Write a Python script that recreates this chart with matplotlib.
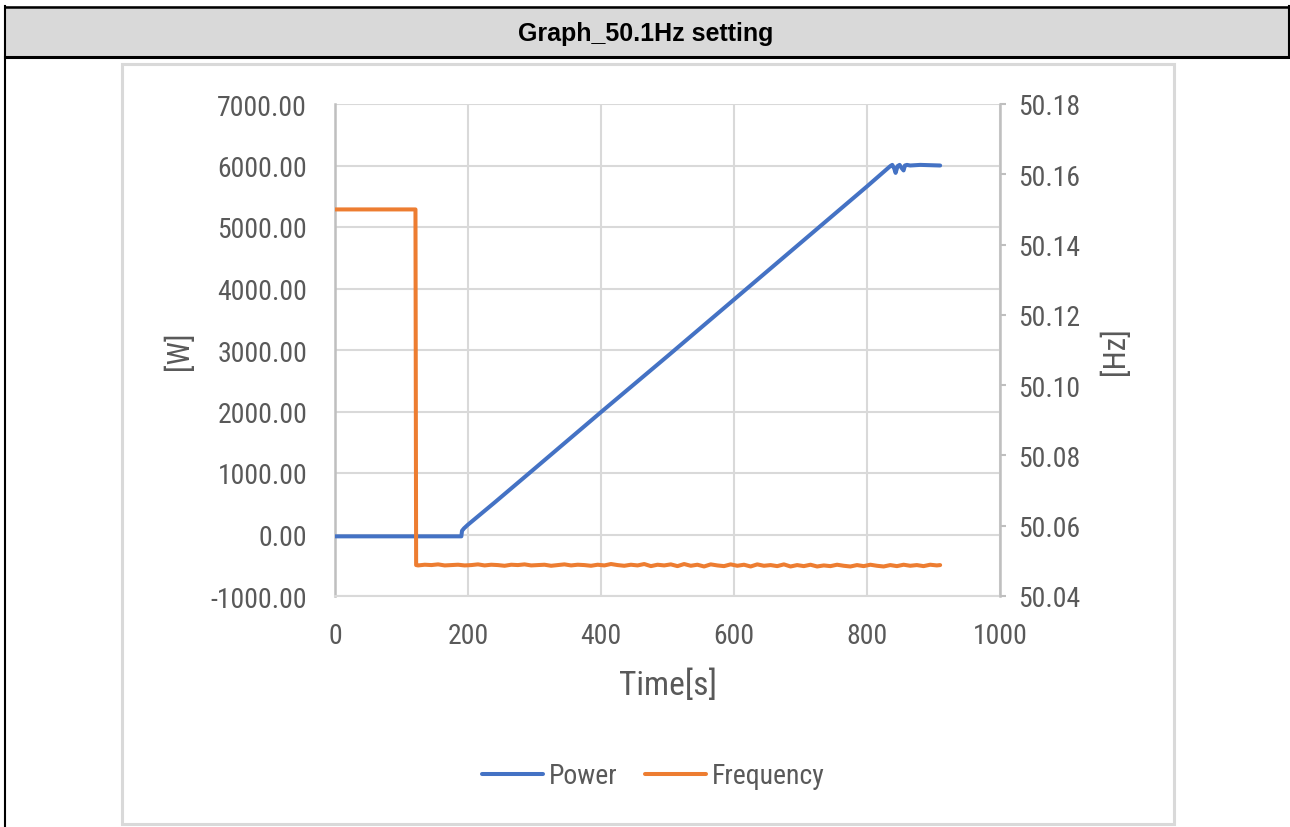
import matplotlib
matplotlib.use("Agg")
import matplotlib.pyplot as plt
from matplotlib import font_manager
from matplotlib.patches import Rectangle
from matplotlib.lines import Line2D

# ---------------- data ----------------
title = "Graph_50.1Hz setting"

power_t = [0, 190, 191, 194, 200, 210, 240, 300, 400, 500, 600, 700, 800,
           835, 838, 841, 843, 846, 849, 852, 855, 857, 860, 865, 880, 910]
power_w = [-30, -30, 60, 100, 160, 250, 520, 1070, 1990, 2900, 3820, 4740, 5660,
           5990, 6010, 5950, 5880, 5990, 6010, 5960, 5920, 6000, 6010, 6000, 6010, 6000]

freq_t = [0, 121, 122, 125, 135, 145, 155, 165, 175, 185, 195, 205, 215, 225, 235, 245,
          255, 265, 275, 285, 295, 305, 315, 325, 335, 345, 355, 365, 375, 385, 395,
          405, 415, 425, 435, 445, 455, 465, 475, 485, 495, 505, 515, 525, 535, 545,
          555, 565, 575, 585, 595, 605, 615, 625, 635, 645, 655, 665, 675, 685, 695,
          705, 715, 725, 735, 745, 755, 765, 775, 785, 795, 805, 815, 825, 835, 845,
          855, 865, 875, 885, 895, 905, 910]
freq_hz = [50.150, 50.150, 50.0488, 50.0487, 50.0489, 50.0488, 50.0490, 50.0487, 50.0488,
           50.0489, 50.0487, 50.0488, 50.0490, 50.0487, 50.0489, 50.0488, 50.0486, 50.0489,
           50.0488, 50.0490, 50.0487, 50.0488, 50.0489, 50.0486, 50.0488, 50.0490, 50.0487,
           50.0489, 50.0488, 50.0486, 50.0489, 50.0487, 50.0491, 50.0488, 50.0486, 50.0489,
           50.0487, 50.0491, 50.0485, 50.0489, 50.0487, 50.0490, 50.0485, 50.0491, 50.0486,
           50.0489, 50.0484, 50.0490, 50.0487, 50.0485, 50.0490, 50.0486, 50.0489, 50.0484,
           50.0490, 50.0486, 50.0488, 50.0485, 50.0490, 50.0484, 50.0488, 50.0485, 50.0489,
           50.0484, 50.0487, 50.0485, 50.0489, 50.0486, 50.0484, 50.0488, 50.0485, 50.0489,
           50.0486, 50.0484, 50.0488, 50.0485, 50.0489, 50.0486, 50.0488, 50.0485, 50.0489,
           50.0487, 50.0488]

x_ticks = [0, 200, 400, 600, 800, 1000]
w_ticks = [-1000, 0, 1000, 2000, 3000, 4000, 5000, 6000, 7000]
hz_ticks = [50.04, 50.06, 50.08, 50.10, 50.12, 50.14, 50.16, 50.18]

x_label = "Time[s]"
w_label = "[W]"
hz_label = "[Hz]"
series_names = ["Power", "Frequency"]

# ---------------- fonts ----------------
names = {f.name for f in font_manager.fontManager.ttflist}
narrow = None
for cand in ["Liberation Sans Narrow", "Roboto Condensed", "Open Sans Condensed",
             "Noto Sans Condensed", "DejaVu Sans Condensed"]:
    if cand in names:
        narrow = cand
        break
if narrow is None:
    for f in font_manager.fontManager.ttflist:
        if f.stretch in ("condensed", "semi-condensed", "extra-condensed") and \
                f.name in ("Roboto", "Open Sans", "Noto Sans", "DejaVu Sans", "Inter", "Lato"):
            narrow = f.name
            break
BODY = [narrow] if narrow else []
BODY += ["Roboto", "DejaVu Sans"]
plt.rcParams["font.family"] = BODY
condensed_ok = narrow is not None
STRETCH = "condensed" if condensed_ok else "normal"
WEIGHT = "light" if not condensed_ok else "normal"
TICK_FS = 20 if condensed_ok else 18
LAB_FS = 22 if condensed_ok else 19.5
XLAB_FS = 24 if condensed_ok else 21
LEG_FS = 20 if condensed_ok else 18

W, H = 1290, 828
BLUE = "#4472C4"
ORANGE = "#ED7D31"
GRID = "#D9D9D9"
TXT = "#595959"

fig = plt.figure(figsize=(W / 100, H / 100), dpi=100)

# background frame (pixel coordinates)
bg = fig.add_axes([0, 0, 1, 1])
bg.set_xlim(0, W)
bg.set_ylim(H, 0)
bg.axis("off")
bg.add_patch(Rectangle((5, 7), W - 5, 51, facecolor="#D9D9D9", edgecolor="none"))
bg.plot([5, W], [7.5, 7.5], color="black", lw=1.8)
bg.plot([5, W], [58, 58], color="black", lw=2.2)
bg.plot([5, 5], [7, H], color="black", lw=1.5)
bg.plot([1288.5, 1288.5], [7, 58], color="black", lw=1.5)
bg.add_patch(Rectangle((122, 65), 1052, 760, facecolor="white", edgecolor=GRID, lw=2.2))
bg.text(646, 34, title, ha="center", va="center", fontsize=18, fontweight="bold",
        color="black", family=["Liberation Sans", "DejaVu Sans"])

# main axes
L, R, T, B = 335, 1000, 105, 597
ax = fig.add_axes([L / W, 1 - B / H, (R - L) / W, (B - T) / H])
ax.set_facecolor("none")
ax.plot(power_t, power_w, color=BLUE, lw=2.9, solid_capstyle="round", zorder=3)
ax.set_xlim(0, 1000)
ax.set_ylim(-1000, 7000)
ax.set_xticks(x_ticks)
ax.set_yticks(w_ticks)
ax.set_yticklabels([f"{v:.2f}" for v in w_ticks])
ax.grid(True, color=GRID, lw=1.5)
ax.set_axisbelow(True)
for s in ["top", "right"]:
    ax.spines[s].set_visible(False)
ax.spines["left"].set_color("#BFBFBF")
ax.spines["left"].set_linewidth(1.8)
ax.spines["bottom"].set_color(GRID)
ax.spines["bottom"].set_linewidth(1.5)
ax.tick_params(axis="both", length=0, labelsize=TICK_FS, labelcolor=TXT)
ax.tick_params(axis="x", pad=19)
ax.tick_params(axis="y", pad=20)
for lab in ax.get_xticklabels() + ax.get_yticklabels():
    lab.set_fontweight(WEIGHT)
    lab.set_fontstretch(STRETCH)
ax.set_xlabel(x_label, fontsize=XLAB_FS, color=TXT, labelpad=14,
              fontweight=WEIGHT, fontstretch=STRETCH)
ax.set_ylabel(w_label, fontsize=LAB_FS, color=TXT, labelpad=12,
              fontweight=WEIGHT, fontstretch=STRETCH)

ax2 = ax.twinx()
ax2.plot(freq_t, freq_hz, color=ORANGE, lw=2.9, solid_capstyle="round", zorder=3)
ax2.set_ylim(50.04, 50.18)
ax2.set_yticks(hz_ticks)
ax2.set_yticklabels([f"{v:.2f}" for v in hz_ticks])
for s in ["top", "left", "bottom"]:
    ax2.spines[s].set_visible(False)
ax2.spines["right"].set_color("#BFBFBF")
ax2.spines["right"].set_linewidth(1.8)
ax2.tick_params(axis="y", length=4, width=1.5, color="#BFBFBF", labelsize=TICK_FS,
                labelcolor=TXT, pad=9)
for lab in ax2.get_yticklabels():
    lab.set_fontweight(WEIGHT)
    lab.set_fontstretch(STRETCH)
ax2.set_ylabel(hz_label, fontsize=LAB_FS, color=TXT, rotation=90, labelpad=14,
               fontweight=WEIGHT, fontstretch=STRETCH)

handles = [Line2D([], [], color=BLUE, lw=2.9, solid_capstyle="round"),
           Line2D([], [], color=ORANGE, lw=2.9, solid_capstyle="round")]
leg = fig.legend(handles, series_names, loc="center", bbox_to_anchor=(653 / W, 1 - 777 / H),
                 ncol=2, frameon=False, fontsize=LEG_FS, handlelength=2.2, handletextpad=0.2,
                 columnspacing=1.0)
for t in leg.get_texts():
    t.set_color(TXT)
    t.set_fontweight(WEIGHT)
    t.set_fontstretch(STRETCH)

fig.savefig("out.png", dpi=100)
